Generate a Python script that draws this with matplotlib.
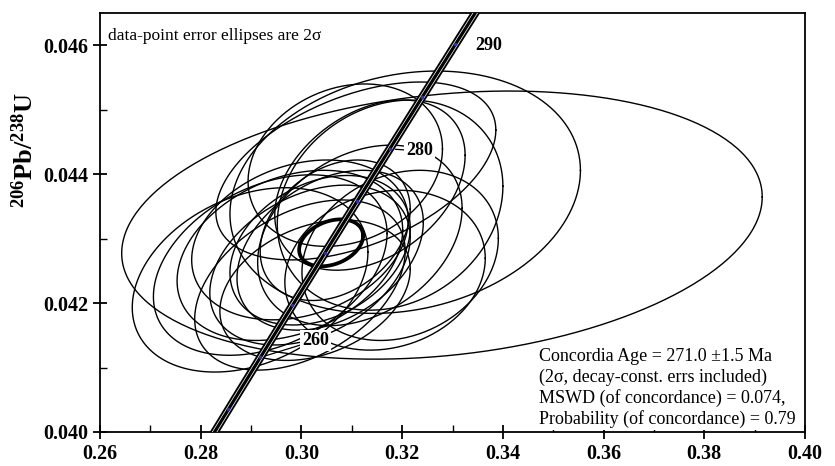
import numpy as np
import matplotlib
matplotlib.use("Agg")
import matplotlib.pyplot as plt
from matplotlib.ticker import MultipleLocator, FormatStrFormatter

plt.rcParams['font.family'] = ['Liberation Serif', 'DejaVu Serif']
plt.rcParams['mathtext.fontset'] = 'custom'
plt.rcParams['mathtext.rm'] = 'Liberation Serif:bold'

# data-point ellipses: 207Pb/235U, 206Pb/238U, 2-sigma errors, rho
x207 = [0.3279, 0.3206, 0.3108, 0.3176, 0.3087, 0.3136, 0.3196, 0.3166, 0.3116, 0.3057,
        0.2898, 0.2938, 0.2977, 0.2997, 0.3017, 0.3037, 0.2997, 0.3027, 0.3067]
y206 = [0.04321, 0.04372, 0.04405, 0.04352, 0.04414, 0.04383, 0.04274, 0.04251, 0.04305, 0.04282,
        0.04236, 0.04259, 0.04274, 0.04298, 0.04259, 0.04282, 0.04228, 0.04220, 0.04313]
err207 = [0.0636, 0.0348, 0.0278, 0.0224, 0.0193, 0.0189, 0.0195, 0.0199, 0.0203, 0.0185,
          0.0234, 0.0232, 0.0224, 0.0215, 0.0199, 0.0179, 0.0209, 0.0189, 0.0149]
err206 = [0.00208, 0.00188, 0.00138, 0.00163, 0.00126, 0.00132, 0.00132, 0.00124, 0.00140, 0.00124,
          0.00143, 0.00140, 0.00132, 0.00124, 0.00124, 0.00116, 0.00132, 0.00109, 0.00109]
rho = [0.21, 0.18, 0.46, 0.18, 0.20, 0.35, 0.20, 0.15, 0.30, 0.35,
       0.30, 0.35, 0.30, 0.25, 0.35, 0.30, 0.40, 0.30, 0.30]

# concordia age ellipse
conc_x, conc_y, conc_ex, conc_ey, conc_rho = 0.30589, 0.042935, 0.00635, 0.000364, 0.3

lam238 = 1.55125e-10
lam235 = 9.8485e-10
age_labels = [260, 280, 290]
label_offsets = [(55, 17), (30, -2), (33, -1)]
marker_ages = [255, 260, 265, 270, 275, 280, 285, 290]


def ellipse(cx, cy, ex, ey, r, n=300):
    t = np.linspace(0, 2 * np.pi, n)
    xs = cx + ex * np.cos(t)
    ys = cy + ey * (r * np.cos(t) + np.sqrt(1 - r * r) * np.sin(t))
    return xs, ys


def concordia(age_ma):
    t = np.asarray(age_ma) * 1e6
    return np.exp(lam235 * t) - 1, np.exp(lam238 * t) - 1


fig = plt.figure(figsize=(8.35, 4.66), dpi=100)
ax = fig.add_axes([0.1198, 0.073, 0.8443, 0.899])

for i in range(len(x207)):
    xs, ys = ellipse(x207[i], y206[i], err207[i], err206[i], rho[i])
    ax.plot(xs, ys, color='black', lw=1.0, zorder=2)

xs, ys = ellipse(conc_x, conc_y, conc_ex, conc_ey, conc_rho)
ax.plot(xs, ys, color='black', lw=2.7, zorder=3)

ages = np.linspace(245, 300, 400)
cx, cy = concordia(ages)
ax.plot(cx, cy, color='black', lw=6.0, zorder=4, solid_capstyle='butt')
ax.plot(cx, cy, color='white', lw=3.3, zorder=5, solid_capstyle='butt')
ax.plot(cx, cy, color='black', lw=2.3, zorder=6, solid_capstyle='butt')
mx, my = concordia(marker_ages)
ax.plot(mx, my, 'o', color='#3030a0', ms=1.5, zorder=7)

for a, off in zip(age_labels, label_offsets):
    px, py = concordia(a)
    arrow = None
    if a != 290:
        arrow = dict(arrowstyle='-', lw=0.9, color='black', shrinkA=0, shrinkB=4)
    ax.annotate(str(a), xy=(px, py), xytext=off, textcoords='offset pixels',
                ha='center', va='center', fontsize=13, fontweight='bold',
                bbox=dict(boxstyle='square,pad=0.1', fc='white', ec='none'),
                arrowprops=arrow, zorder=8)

ax.set_xlim(0.26, 0.40)
ax.set_ylim(0.040, 0.0465)
ax.xaxis.set_major_locator(MultipleLocator(0.02))
ax.xaxis.set_minor_locator(MultipleLocator(0.01))
ax.yaxis.set_major_locator(MultipleLocator(0.002))
ax.yaxis.set_minor_locator(MultipleLocator(0.001))
ax.xaxis.set_major_formatter(FormatStrFormatter('%.2f'))
ax.yaxis.set_major_formatter(FormatStrFormatter('%.3f'))
ax.tick_params(which='major', direction='inout', length=10, width=1.3, labelsize=14.5)
ax.tick_params(which='minor', direction='in', length=5, width=1.0)
for lab in ax.get_xticklabels() + ax.get_yticklabels():
    lab.set_fontweight('bold')
for s in ax.spines.values():
    s.set_linewidth(1.3)

fig.text(25 / 835, 1 - 150 / 466, r'$\mathregular{^{206}Pb/^{238}U}$', rotation=90,
         fontsize=19, fontweight='bold', ha='center', va='center')

ax.text(0.012, 0.965, 'data-point error ellipses are 2σ', transform=ax.transAxes,
        fontsize=12.5, va='top', ha='left')
ax.text(0.622, 0.2, 'Concordia Age = 271.0 ±1.5 Ma\n(2σ, decay-const. errs included)\n'
        'MSWD (of concordance) = 0.074,\nProbability (of concordance) = 0.79',
        transform=ax.transAxes, fontsize=13, va='top', ha='left', linespacing=1.23,
        bbox=dict(boxstyle='square,pad=0.1', fc='white', ec='none'), zorder=9)

fig.savefig('out.png', dpi=100)
